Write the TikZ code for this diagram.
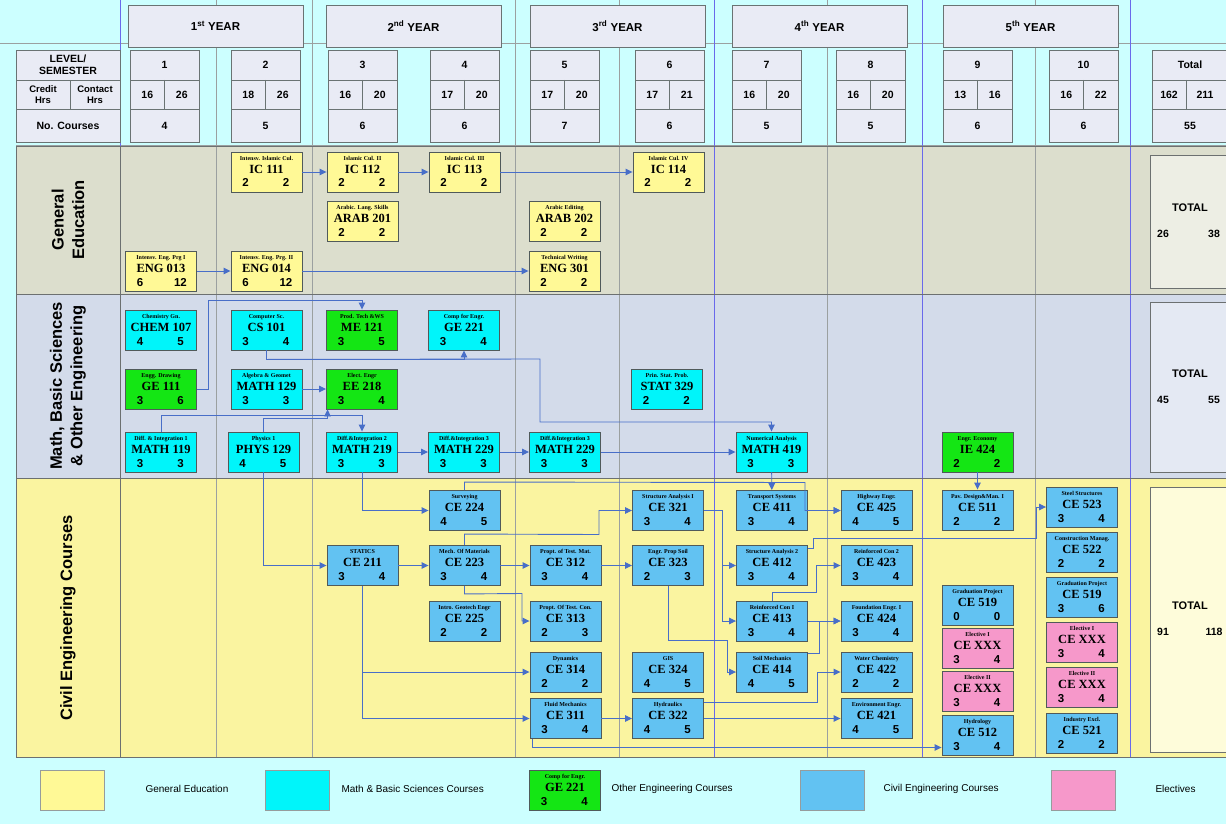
\documentclass[tikz,border=0pt]{standalone}
\usepackage{fontspec}
\setmainfont{Liberation Sans}
\setsansfont{Liberation Sans}
\newfontfamily\cf{Liberation Serif}
\usetikzlibrary{arrows.meta}
\definecolor{BgCyan}{RGB}{204,255,255}
\definecolor{HdrFill}{RGB}{233,235,245}
\definecolor{GenBand}{RGB}{220,222,205}
\definecolor{MathBand}{RGB}{211,219,234}
\definecolor{CivBand}{RGB}{250,244,160}
\definecolor{GenTot}{RGB}{237,238,228}
\definecolor{MathTot}{RGB}{228,233,243}
\definecolor{CivTot}{RGB}{254,252,218}
\definecolor{GenFill}{RGB}{255,249,150}
\definecolor{MathFill}{RGB}{0,245,250}
\definecolor{OthFill}{RGB}{20,230,20}
\definecolor{CivFill}{RGB}{98,194,242}
\definecolor{ElecFill}{RGB}{246,152,202}
\definecolor{BoxLine}{RGB}{80,90,90}
\definecolor{ArrBlue}{RGB}{72,110,200}
\definecolor{GridGray}{RGB}{155,160,160}
\definecolor{GridBlue}{RGB}{105,105,235}

\newcommand{\crs}[4]{\parbox[c][40pt][t]{71pt}{\centering
  \fontsize{6}{6}\selectfont\cf\bfseries\rule{0pt}{8.2pt}#1\par
  \fontsize{12.5}{12.8}\selectfont #2\par
  \fontsize{11.5}{14}\selectfont\rmfamily\bfseries
  \hspace*{14.5pt}\makebox[0pt]{#3}\hfill\makebox[0pt]{#4}\hspace*{16pt}\par}}

\begin{document}
\begin{tikzpicture}[x=1pt, y=-1pt, >={Triangle[length=7pt,width=6.5pt]},
    crsbox/.style={draw=BoxLine, line width=0.9pt, inner sep=0pt},
    gen/.style={crsbox, fill=GenFill},
    mbs/.style={crsbox, fill=MathFill},
    oeng/.style={crsbox, fill=OthFill},
    civ/.style={crsbox, fill=CivFill},
    elec/.style={crsbox, fill=ElecFill},
    arr/.style={->, draw=ArrBlue, line width=0.9pt},
    hdrbox/.style={draw=BoxLine!85, fill=HdrFill, line width=0.8pt},
    hdrline/.style={draw=BoxLine!85, line width=0.8pt},
    bandline/.style={draw=GridGray!70!black, line width=1pt},
    hd/.style={font=\fontsize{10.5}{12}\selectfont\bfseries},
    sml/.style={font=\fontsize{9.5}{10.5}\selectfont\bfseries, align=center, inner sep=0pt},
    band/.style={rotate=90, font=\fontsize{16.5}{20.5}\selectfont\bfseries, align=center},
    tot/.style={font=\fontsize{11}{13}\selectfont\bfseries},
    legsw/.style={draw=BoxLine!60, line width=0.8pt, minimum width=64pt, minimum height=40pt},
    legtxt/.style={anchor=west, font=\fontsize{10}{12}\selectfont}]
\useasboundingbox (0,0) rectangle (1226,824);
\fill[BgCyan] (0,0) rectangle (1226,824);
\fill[GenBand] (16,147) rectangle (1240,294);
\fill[MathBand] (16,294) rectangle (1240,478);
\fill[CivBand] (16,478) rectangle (1240,757);
\foreach \gx in {216,312,515,619,827,1035}
    \draw[GridGray, line width=0.7pt] (\gx,0) -- (\gx,757);
\draw[GridGray, line width=0.7pt] (0,43) -- (1226,43) (16,145) -- (1226,145);
\foreach \gx in {120,714,922,1130}
    \draw[GridBlue, line width=1pt] (\gx,0) -- (\gx,757);
\draw[bandline] (16,147) rectangle (1240,294) (16,294) rectangle (1240,478) (16,478) rectangle (1240,757);
\draw[bandline] (16,147) -- (16,757) (120,147) -- (120,757);

% header
\foreach \xl/\n/\sfx in {128/1/st,326/2/nd,530/3/rd,732/4/th,943/5/th}
    \node[hdrbox, minimum width=175pt, minimum height=42pt, font=\fontsize{11.5}{13}\selectfont\bfseries] (yr\n) at (\xl+87.5,26) {\n\textsuperscript{\sfx} YEAR};
\foreach \xl/\sm/\chr/\cth/\nc in {130/1/16/26/4, 231/2/18/26/5, 328/3/16/20/6, 430/4/17/20/6, 530/5/17/20/7, 635/6/17/21/6, 732/7/16/20/5, 836/8/16/20/5, 943/9/13/16/6, 1049/10/16/22/6} {
    \draw[hdrbox] (\xl,50) rectangle ++(69,92);
    \draw[hdrline] (\xl,80) -- ++(69,0) (\xl,109) -- ++(69,0) (\xl+34.5,80) -- ++(0,29);
    \node[hd] (sem\sm) at (\xl+34.5,65) {\sm};
    \node[hd] (chr\sm) at (\xl+17.25,94.5) {\chr};
    \node[hd] (cth\sm) at (\xl+51.75,94.5) {\cth};
    \node[hd] (nc\sm) at (\xl+34.5,125.5) {\nc};
}
\draw[hdrbox] (1152,50) rectangle (1234,142);
\draw[hdrline] (1152,80) -- (1234,80) (1152,109) -- (1234,109) (1186,80) -- (1186,109);
\node[hd] (semT) at (1190,65) {Total};
\node[hd] (chrT) at (1169,94.5) {162};
\node[hd] (cthT) at (1205,94.5) {211};
\node[hd] (ncT) at (1190,125.5) {55};
\draw[hdrbox] (16,50) rectangle (120,142);
\draw[hdrline] (16,80) -- (120,80) (16,109) -- (120,109) (70,80) -- (70,109);
\node[sml, font=\fontsize{10.5}{12}\selectfont\bfseries] (lvl) at (68,65) {LEVEL/\\SEMESTER};
\node[sml] (crh) at (43,94.5) {Credit\\Hrs};
\node[sml] (cth) at (95,94.5) {Contact\\Hrs};
\node[hd] (ncs) at (68,125.5) {No. Courses};

% bands
\node[band] (lblGen) at (68,220) {General\\Education};
\node[band] (lblMath) at (68,386) {Math, Basic Sciences\\\& Other Engineering};
\node[band] (lblCiv) at (68,618) {Civil Engineering Courses};
\foreach \yt/\yb/\col/\hc/\hk/\nm in {155/288/GenTot/26/38/ge, 302/472/MathTot/45/55/mb, 487/752/CivTot/91/118/ce} {
    \draw[fill=\col, draw=GridGray!70!black, line width=0.9pt] (1150,\yt) rectangle (1240,\yb);
    \node[tot] (\nm Tot) at (1190,{(\yt+\yb)/2-13.5}) {TOTAL};
    \node[tot, font=\fontsize{10.5}{12}\selectfont\bfseries] (\nm Cr) at (1163,{(\yt+\yb)/2+12.5}) {\hc};
    \node[tot, font=\fontsize{10.5}{12}\selectfont\bfseries] (\nm Ct) at (1214,{(\yt+\yb)/2+12.5}) {\hk};
}

% general education
\node[gen] (IC111) at (266.5,172) {\crs{Intensv. Islamic Cul.}{IC 111}{2}{2}};
\node[gen] (IC112) at (362.5,172) {\crs{Islamic Cul. II}{IC 112}{2}{2}};
\node[gen] (IC113) at (464.5,172) {\crs{Islamic Cul. III}{IC 113}{2}{2}};
\node[gen] (IC114) at (668.5,172) {\crs{Islamic Cul. IV}{IC 114}{2}{2}};
\node[gen] (ARAB201) at (362.5,221) {\crs{Arabic. Lang. Skills}{ARAB 201}{2}{2}};
\node[gen] (ARAB202) at (564.5,221) {\crs{Arabic Editing}{ARAB 202}{2}{2}};
\node[gen] (ENG013) at (161,271) {\crs{Intensv. Eng. Prg I}{ENG 013}{6}{12}};
\node[gen] (ENG014) at (266.5,271) {\crs{Intensv. Eng. Prg. II}{ENG 014}{6}{12}};
\node[gen] (ENG301) at (564.5,271) {\crs{Technical Writing}{ENG 301}{2}{2}};

% math, basic sciences, other engineering
\node[mbs] (CHEM107) at (161,330) {\crs{Chemistry Gn.}{CHEM 107}{4}{5}};
\node[mbs] (CS101) at (266.5,330) {\crs{Computer Sc.}{CS 101}{3}{4}};
\node[oeng] (ME121) at (362,330) {\crs{Prod. Tech \&WS}{ME 121}{3}{5}};
\node[mbs] (GE221) at (464,330) {\crs{Comp for Engr.}{GE 221}{3}{4}};
\node[oeng] (GE111) at (161,389) {\crs{Engg. Drawing}{GE 111}{3}{6}};
\node[mbs] (MATH129) at (266.5,389) {\crs{Algebra \& Geomet}{MATH 129}{3}{3}};
\node[oeng] (EE218) at (362,389) {\crs{Elect. Engr}{EE 218}{3}{4}};
\node[mbs] (STAT329) at (667,389) {\crs{Prin. Stat. Prob.}{STAT 329}{2}{2}};
\node[mbs] (MATH119) at (161,452) {\crs{Diff. \& Integration 1}{MATH 119}{3}{3}};
\node[mbs] (PHYS129) at (263.5,452) {\crs{Physics 1}{PHYS 129}{4}{5}};
\node[mbs] (MATH219) at (362,452) {\crs{Diff.\&Integration 2}{MATH 219}{3}{3}};
\node[mbs] (MATH229a) at (464,452) {\crs{Diff.\&Integration 3}{MATH 229}{3}{3}};
\node[mbs] (MATH229b) at (565,452) {\crs{Diff.\&Integration 3}{MATH 229}{3}{3}};
\node[mbs] (MATH419) at (771.5,452) {\crs{Numerical Analysis}{MATH 419}{3}{3}};
\node[oeng] (IE424) at (977.5,452) {\crs{Engr. Economy}{IE 424}{2}{2}};

% civil engineering
\node[civ] (CE224) at (464.5,510.5) {\crs{Surveying}{CE 224}{4}{5}};
\node[civ] (CE211) at (362.5,565.5) {\crs{STATICS}{CE 211}{3}{4}};
\node[civ] (CE223) at (464.5,565.5) {\crs{Mech. Of Materials}{CE 223}{3}{4}};
\node[civ] (CE225) at (464.5,621) {\crs{Intro. Geotech Engr}{CE 225}{2}{2}};
\node[civ] (CE312) at (565.5,565.5) {\crs{Propt. of Test. Mat.}{CE 312}{3}{4}};
\node[civ] (CE313) at (565.5,621) {\crs{Propt. Of Test. Con.}{CE 313}{2}{3}};
\node[civ] (CE314) at (565.5,672) {\crs{Dynamics}{CE 314}{2}{2}};
\node[civ] (CE311) at (565.5,718.5) {\crs{Fluid Mechanics}{CE 311}{3}{4}};
\node[civ] (CE321) at (668,510.5) {\crs{Structure Analysis I}{CE 321}{3}{4}};
\node[civ] (CE323) at (668,565.5) {\crs{Engr. Prop Soil}{CE 323}{2}{3}};
\node[civ] (CE324) at (668,672) {\crs{GIS}{CE 324}{4}{5}};
\node[civ] (CE322) at (668,718.5) {\crs{Hydraulics}{CE 322}{4}{5}};
\node[civ] (CE411) at (772,510.5) {\crs{Transport Systems}{CE 411}{3}{4}};
\node[civ] (CE412) at (772,565.5) {\crs{Structure Analysis 2}{CE 412}{3}{4}};
\node[civ] (CE413) at (772,621) {\crs{Reinforced Con I}{CE 413}{3}{4}};
\node[civ] (CE414) at (772,672) {\crs{Soil Mechanics}{CE 414}{4}{5}};
\node[civ] (CE425) at (876.5,510.5) {\crs{Highway Engr.}{CE 425}{4}{5}};
\node[civ] (CE423) at (876.5,565.5) {\crs{Reinforced Con 2}{CE 423}{3}{4}};
\node[civ] (CE424) at (876.5,621) {\crs{Foundation Engr. I}{CE 424}{3}{4}};
\node[civ] (CE422) at (876.5,672) {\crs{Water Chemistry}{CE 422}{2}{2}};
\node[civ] (CE421) at (876.5,718.5) {\crs{Environment Engr.}{CE 421}{4}{5}};
\node[civ] (CE511) at (977.5,510) {\crs{Pav. Design\&Man. I}{CE 511}{2}{2}};
\node[civ] (CE519a) at (977.5,605.5) {\crs{Graduation Project}{CE 519}{0}{0}};
\node[elec] (CEXXXa) at (977.5,648) {\crs{Elective I}{CE XXX}{3}{4}};
\node[elec] (CEXXXb) at (977.5,691) {\crs{Elective II}{CE XXX}{3}{4}};
\node[civ] (CE512) at (977.5,735.5) {\crs{Hydrology}{CE 512}{3}{4}};
\node[civ] (CE523) at (1082,507) {\crs{Steel Structures}{CE 523}{3}{4}};
\node[civ] (CE522) at (1082,552) {\crs{Construction Manag.}{CE 522}{2}{2}};
\node[civ] (CE519b) at (1082,597) {\crs{Graduation Project}{CE 519}{3}{6}};
\node[elec] (CEXXXc) at (1082,642) {\crs{Elective I}{CE XXX}{3}{4}};
\node[elec] (CEXXXd) at (1082,687) {\crs{Elective II}{CE XXX}{3}{4}};
\node[civ] (CE521) at (1082,733) {\crs{Industry Excl.}{CE 521}{2}{2}};

% prerequisites
\draw[arr] (ENG013) -- (ENG014);
\draw[arr] (ENG014) -- (ENG301);
\draw[arr] (IC111) -- (IC112);
\draw[arr] (IC112) -- (IC113);
\draw[arr] (IC113) -- (IC114);
\draw[arr] (GE111.east) -- ++(11,0) |- ([yshift=9pt]ME121.north) -- (ME121.north);
\draw[arr] (MATH129) -- (EE218);
\draw[arr] (CS101.south) -- ++(0,9) -| (GE221.south);
\draw[arr] (CS101.south) -- ++(0,9) -- (540,359) -- (540,422) -| (MATH419.north);
\draw[arr] (MATH119.north) -- ++(0,-16) -| (MATH219.north);
\draw[arr] (PHYS129.north) -- ++(0,-13) -| ([xshift=1.5pt]EE218.south west);
\draw[arr] (MATH219) -- (MATH229a);
\draw[arr] (MATH229a) -- (MATH229b);
\draw[arr] (MATH229b) -- (MATH419);
\draw[arr] (PHYS129.south) |- (CE211.west);
\draw[arr] (MATH219.south) |- (CE224.west);
\draw[arr] (MATH419) -- (CE411);
\draw[arr] (IE424) -- (CE511);
\draw[arr] (CE211) -- (CE223);
\draw[arr] (CE223) -- (CE312);
\draw[arr] (CE312) -- (CE323);
\draw[arr] (CE224.north) -- ++(0,-8) -- (805,482.5) |- (CE425.west);
\draw[arr] (CE223.north) -- ++(0,-11) -- (599,534.5) |- (CE321.west);
\draw[arr] (CE223.south) -- ++(0,8) -- (522,593.5) |- (CE313.west);
\draw[arr] (CE211.south) |- (CE314.west);
\draw[arr] (CE211.south) |- (CE311.west);
\draw[arr] (CE311) -- (CE322);
\draw[arr] ([xshift=3pt]CE311.south west) |- ([yshift=-12pt]CE512.west);
\draw[arr] (CE321.east) -- (722,510.5) |- (CE412.west);
\draw[arr] (CE321.east) -- (722,510.5) |- (CE413.west);
\draw[arr] (CE323.south) |- (727,640) |- (CE414.west);
\draw[arr] (CE411) -- (CE425);
\draw[arr] ([yshift=-3pt]CE412.north east) -| (813,538) -| ([xshift=-10pt]CE523.west) -- (CE523.west);
\draw[arr] (CE413.north) -- ++(0,-8) -| ([xshift=-24pt]CE423.west) -- (CE423.west);
\draw[arr] (CE413) -- (CE424);
\draw[arr] ([yshift=-2pt]CE414.north east) -| ([xshift=-21pt]CE424.west) -- (CE424.west);
\draw[arr] ([yshift=-4pt]CE322.north east) -| ([xshift=-23pt]CE422.west) -- (CE422.west);
\draw[arr] (CE322) -- (CE421);

% legend
\node[legsw, fill=GenFill] (legGen) at (72,790) {};
\node[legtxt] (legGenT) at (142,789) {General Education};
\node[legsw, fill=MathFill] (legMath) at (297.5,790) {};
\node[legtxt] (legMathT) at (338,789) {Math \& Basic Sciences Courses};
\node[oeng] (legOth) at (565,790) {\crs{Comp for Engr.}{GE 221}{3}{4}};
\node[legtxt] (legOthT) at (608,789) {Other Engineering Courses};
\node[legsw, fill=CivFill] (legCiv) at (832.5,790) {};
\node[legtxt] (legCivT) at (880,789) {Civil Engineering Courses};
\node[legsw, fill=ElecFill] (legEl) at (1083.5,790) {};
\node[legtxt] (legElT) at (1152,789) {Electives};
\end{tikzpicture}
\end{document}
